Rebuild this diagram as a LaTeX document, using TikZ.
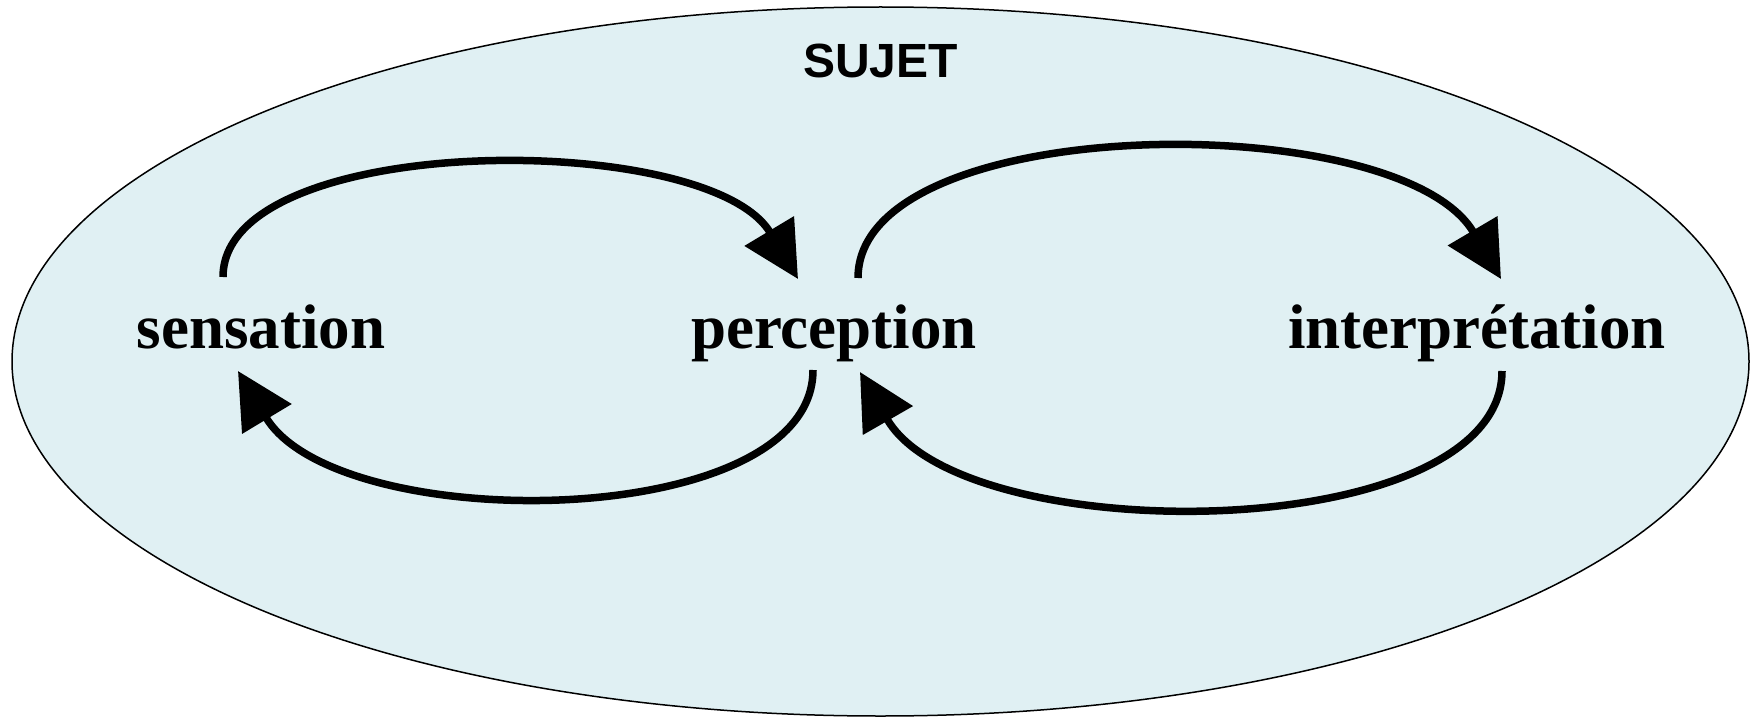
\documentclass[tikz,border=0pt]{standalone}
\usepackage{fontspec}
\setmainfont{Liberation Serif}
\newfontfamily\sujetfont{Liberation Sans}
\usetikzlibrary{arrows.meta, shapes.geometric, calc}
\definecolor{sujetbg}{RGB}{224,240,243}
\tikzset{
  subj/.style ={ellipse, draw=black, line width=0.75pt, fill=sujetbg,
                minimum width=868.5pt, minimum height=354.5pt, inner sep=0pt},
  term/.style ={anchor=base, inner sep=0pt,
                font=\fontsize{31.5}{36}\selectfont\bfseries},
  head/.style ={anchor=base, inner sep=0pt,
                font=\sujetfont\fontsize{24}{28}\selectfont\bfseries},
  cyc/.style  ={-{Triangle[length=28pt, width=28pt]}, line width=3.75pt}
}

\begin{document}
\begin{tikzpicture}[x=0.5pt, y=-0.5pt]
  \useasboundingbox (0,0) rectangle (1751,717);
  \node[subj] (sujet) at (880.5,361.5) {};
  \node[head] (lbl) at ($(sujet.north)+(0,71)$) {SUJET};
  \node[term] (sens) at (261,348) {sensation};
  \node[term] (perc) at (834,348) {perception};
  \node[term] (interp) at (1477,348) {interprétation};
  % sensation <-> perception
  \draw[cyc] ($(sens.base)+(-38,-71)$) .. controls +(0,-146) and +(-90,-150) .. ($(perc.base)+(-36,-69)$);
  \draw[cyc] ($(perc.base)+(-21,22)$) .. controls +(0,163) and +(100,166) .. ($(sens.base)+(-23,23)$);
  % perception <-> interpretation
  \draw[cyc] ($(perc.base)+(24,-70)$) .. controls +(0,-167) and +(-102,-173) .. ($(interp.base)+(24,-69)$);
  \draw[cyc] ($(interp.base)+(25,23)$) .. controls +(0,176) and +(103,179) .. ($(perc.base)+(26,24)$);
\end{tikzpicture}
\end{document}
